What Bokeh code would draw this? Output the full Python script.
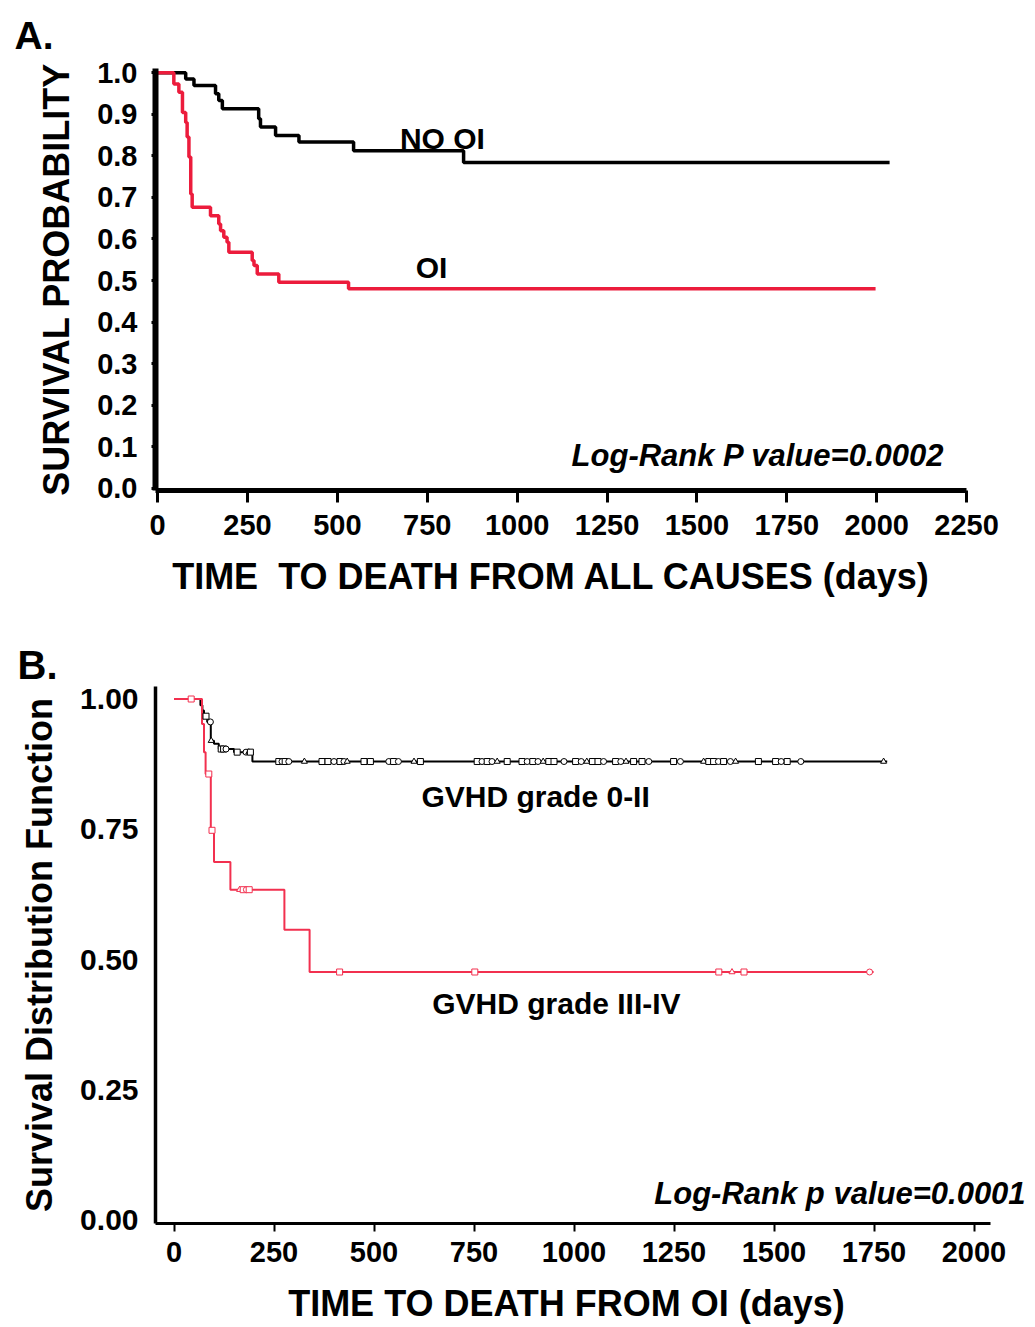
import numpy as np
from bokeh.plotting import figure
from bokeh.models import Label, FixedTicker, NumeralTickFormatter, ColumnDataSource, Title
from bokeh.layouts import column
from bokeh.embed import file_html
from bokeh.resources import INLINE

# ---------------- Panel A data ----------------
a_no_oi_days = [0, 78, 101, 161, 170, 180, 281, 286, 328, 393, 545, 851, 2036]
a_no_oi_surv = [1.0, 0.985, 0.969, 0.949, 0.933, 0.913, 0.889, 0.869, 0.849, 0.833, 0.812, 0.784, 0.784]
a_oi_days = [0, 45, 59, 69, 78, 82, 87, 92, 96, 147, 170, 175, 184, 193, 198, 263, 268, 277, 337, 531, 1997]
a_oi_surv = [1.0, 0.973, 0.953, 0.904, 0.880, 0.845, 0.797, 0.708, 0.676, 0.656, 0.636, 0.620, 0.604,
             0.592, 0.568, 0.548, 0.536, 0.516, 0.496, 0.480, 0.480]
a_x_ticks = [0, 250, 500, 750, 1000, 1250, 1500, 1750, 2000, 2250]
a_y_ticks = [0.0, 0.1, 0.2, 0.3, 0.4, 0.5, 0.6, 0.7, 0.8, 0.9, 1.0]

# ---------------- Panel B data ----------------
b_low_days = [0, 66, 71, 75, 83, 92, 100, 112, 150, 196, 1783]
b_low_surv = [1.0, 0.988, 0.978, 0.967, 0.956, 0.920, 0.914, 0.904, 0.898, 0.880, 0.880]
b_high_days = [0, 70, 75, 79, 92, 100, 141, 276, 339, 1749]
b_high_surv = [1.0, 0.952, 0.898, 0.856, 0.748, 0.687, 0.634, 0.557, 0.476, 0.476]
b_low_censor = [80, 91, 93, 118, 124, 130, 158, 180, 187, 191, 262, 270, 278, 287, 326, 370, 385, 400,
                415, 425, 433, 475, 491, 537, 549, 561, 600, 616, 758, 770, 783, 795, 808, 833, 870,
                883, 897, 910, 923, 937, 950, 975, 1004, 1018, 1032, 1046, 1060, 1074, 1104, 1117,
                1130, 1149, 1170, 1187, 1249, 1266, 1324, 1337, 1349, 1361, 1374, 1391, 1404, 1461,
                1504, 1518, 1533, 1567, 1774]
b_high_censor = [43, 87, 95, 164, 173, 181, 188, 414, 752, 1362, 1395, 1425, 1739]
b_x_ticks = [0, 250, 500, 750, 1000, 1250, 1500, 1750, 2000]
b_y_ticks = [0.0, 0.25, 0.5, 0.75, 1.0]

FONT = "Liberation Sans"
RED_A = "#ec1c3c"
RED_B = "#f2304f"
NBSP = "\u00a0"


def surv_at(days, surv, t):
    idx = np.searchsorted(np.array(days), np.array(t), side="right") - 1
    return list(np.array(surv)[idx])


def base_fig(**kw):
    p = figure(output_backend="svg", toolbar_location=None, **kw)
    p.xgrid.visible = False
    p.ygrid.visible = False
    p.outline_line_color = None
    p.background_fill_color = "white"
    for ax in (p.xaxis[0], p.yaxis[0]):
        ax.major_label_text_font = FONT
        ax.major_label_text_font_style = "bold"
        ax.major_label_text_color = "black"
        ax.axis_label_text_font = FONT
        ax.axis_label_text_font_style = "bold"
        ax.axis_label_text_color = "black"
        ax.axis_line_color = "black"
        ax.major_tick_line_color = "black"
        ax.minor_tick_line_color = None
        ax.major_tick_in = 0
    return p


def label(p, x, y, text, size, align="center", style="bold"):
    p.add_layout(Label(x=x, y=y, text=text, text_align=align, text_baseline="middle",
                       text_font=FONT, text_font_size=size, text_font_style=style,
                       text_color="black"))


def panel_title(p, text, size, offset, valign, standoff):
    t = Title(text=text, align="left", offset=offset, text_font=FONT, text_font_size=size,
              text_font_style="bold", text_color="black", vertical_align=valign, standoff=standoff)
    p.title = t


# ---------------- Panel A ----------------
# frame: left 155, right 1027 (px); 0.3595 px/day
pa = base_fig(width=1035, height=600, x_range=(-6, 2419.6), y_range=(-0.005, 1.01),
              min_border_left=155, min_border_right=8, min_border_top=68, min_border_bottom=110)
pa.step(a_no_oi_days, a_no_oi_surv, mode="after", line_color="black", line_width=3.5)
pa.step(a_oi_days, a_oi_surv, mode="after", line_color=RED_A, line_width=3.5)

pa.xaxis.ticker = FixedTicker(ticks=a_x_ticks)
pa.xaxis.bounds = (-6, 2250)
pa.xaxis.axis_line_width = 5
pa.xaxis.major_tick_line_width = 3
pa.xaxis.major_tick_out = 12
pa.xaxis.major_label_standoff = 12
pa.xaxis.major_label_text_font_size = "29px"
# trailing no-break spaces shift the centred label left, onto the drawn axis span
pa.xaxis.axis_label = "TIME" + NBSP + " TO DEATH FROM ALL CAUSES (days)" + NBSP * 8
pa.xaxis.axis_label_text_font_size = "36px"
pa.xaxis.axis_label_standoff = 18

pa.yaxis.ticker = FixedTicker(ticks=a_y_ticks)
pa.yaxis.formatter = NumeralTickFormatter(format="0.0")
pa.yaxis.axis_line_width = 6
pa.yaxis.major_tick_line_width = 3
pa.yaxis.major_tick_out = 4
pa.yaxis.major_label_standoff = 14
pa.yaxis.major_label_text_font_size = "29px"
pa.yaxis.axis_label = "SURVIVAL PROBABILITY"
pa.yaxis.axis_label_text_font_size = "36px"
pa.yaxis.axis_label_standoff = 17

label(pa, 792, 0.841, "NO OI", "30px")
label(pa, 762, 0.531, "OI", "30px")
label(pa, 2189, 0.079, "Log-Rank P value=0.0002", "31px", align="right", style="bold italic")
panel_title(pa, "A.", "39px", -141, "top", 20)

# ---------------- Panel B ----------------
# frame: left 155, right 1027 (px); 0.4 px/day, day 0 at 173.5
pb = base_fig(width=1035, height=727, x_range=(-46.25, 2133.75), y_range=(-0.0067, 1.024),
              min_border_left=155, min_border_right=8, min_border_top=86, min_border_bottom=104)
pb.step(b_low_days, b_low_surv, mode="after", line_color="black", line_width=2)
pb.step(b_high_days, b_high_surv, mode="after", line_color=RED_B, line_width=2)

low_shapes = ["square", "circle", "triangle", "square", "square", "circle"]
low_src = ColumnDataSource(dict(
    x=b_low_censor,
    y=surv_at(b_low_days, b_low_surv, b_low_censor),
    m=[low_shapes[i % len(low_shapes)] for i in range(len(b_low_censor))]))
pb.scatter("x", "y", marker="m", source=low_src, size=6, line_color="black",
           fill_color="white", line_width=1)
high_shapes = ["square", "square", "square", "triangle", "square", "circle", "square"]
high_src = ColumnDataSource(dict(
    x=b_high_censor,
    y=surv_at(b_high_days, b_high_surv, b_high_censor),
    m=[high_shapes[i % len(high_shapes)] for i in range(len(b_high_censor))]))
pb.scatter("x", "y", marker="m", source=high_src, size=6, line_color=RED_B,
           fill_color="white", line_width=1)

pb.xaxis.ticker = FixedTicker(ticks=b_x_ticks)
pb.xaxis.bounds = (-46.25, 2041)
pb.xaxis.axis_line_width = 3
pb.xaxis.major_tick_line_width = 2
pb.xaxis.major_tick_out = 8
pb.xaxis.major_label_standoff = 10
pb.xaxis.major_label_text_font_size = "29px"
pb.xaxis.axis_label = "TIME TO DEATH FROM OI (days)" + NBSP * 5
pb.xaxis.axis_label_text_font_size = "36px"
pb.xaxis.axis_label_standoff = 18

pb.yaxis.ticker = FixedTicker(ticks=b_y_ticks)
pb.yaxis.formatter = NumeralTickFormatter(format="0.00")
pb.yaxis.axis_line_width = 3.5
pb.yaxis.major_tick_line_width = 0
pb.yaxis.major_tick_out = 0
pb.yaxis.major_label_standoff = 17
pb.yaxis.major_label_text_font_size = "30px"
pb.yaxis.axis_label = "Survival Distribution Function"
pb.yaxis.axis_label_text_font_size = "36px"
pb.yaxis.axis_label_standoff = 17

label(pb, 904, 0.813, "GVHD grade 0-II", "30px")
label(pb, 956, 0.415, "GVHD grade III-IV", "30px")
label(pb, 2129, 0.051, "Log-Rank p value=0.0001", "31px", align="right", style="bold italic")
panel_title(pb, "B.", "40px", -138, "bottom", 0)

layout = column(pa, pb)
open("out.html", "w").write(file_html(layout, INLINE))
